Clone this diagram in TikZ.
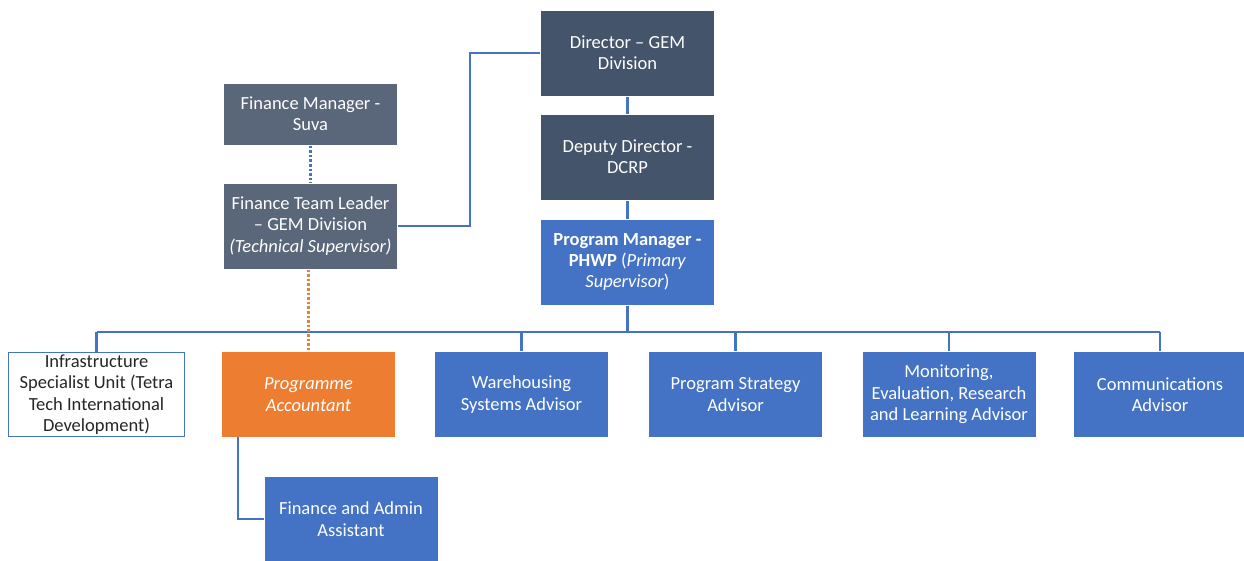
\documentclass[tikz,border=0pt]{standalone}
\usepackage{fontspec}
\setmainfont{Carlito}
\definecolor{slatedark}{HTML}{44546A}
\definecolor{slatemid}{HTML}{5A6679}
\definecolor{offblue}{HTML}{4472C4}
\definecolor{offorange}{HTML}{ED7D31}
\begin{document}
\begin{tikzpicture}[x=1pt,y=-1pt,
  box/.style={draw=white, line width=1pt, text=white, align=center, inner sep=0pt,
    minimum width=174pt, minimum height=86pt,
    font=\fontsize{18.5}{21.3}\selectfont},
  darkbox/.style={box, fill=slatedark},
  midbox/.style={box, fill=slatemid},
  bluebox/.style={box, fill=offblue},
  orangebox/.style={box, fill=offorange},
  whitebox/.style={box, fill=white, draw=offblue, line width=1.6pt, text=black!85, minimum width=176pt, minimum height=84pt},
  link/.style={draw=offblue, line width=2.3pt},
  dotblue/.style={draw=offblue, line width=2.6pt, dotted},
  dotorange/.style={draw=offorange, line width=2.6pt, dotted}
]
\useasboundingbox (0,0) rectangle (1244,560);
% top chain
\node[darkbox] (dir) at (627.5,53) {Director -- GEM\\Division};
\node[darkbox] (dep) at (627.5,157) {Deputy Director -\\DCRP};
\node[bluebox] (pm) at (627.5,262) {\textbf{Program Manager -}\\\textbf{PHWP} (\textit{Primary}\\\textit{Supervisor})};
% finance
\node[midbox, minimum height=62pt] (fm) at (310.5,114) {Finance Manager -\\Suva};
\node[midbox] (ftl) at (310.5,226) {Finance Team Leader\\-- GEM Division\\\textit{(Technical Supervisor)}};
% children
\node[whitebox] (inf) at (96.5,394.5) {Infrastructure\\Specialist Unit (Tetra\\Tech International\\Development)};
\node[orangebox] (pa) at (308.5,394.5) {\textit{Programme}\\\textit{Accountant}};
\node[bluebox] (wh) at (521.5,394.5) {Warehousing\\Systems Advisor};
\node[bluebox] (ps) at (735.5,394.5) {Program Strategy\\Advisor};
\node[bluebox] (mon) at (949,394.5) {Monitoring,\\Evaluation, Research\\and Learning Advisor};
\node[bluebox] (com) at (1160,394.5) {Communications\\Advisor};
\node[bluebox] (faa) at (351,519) {Finance and Admin\\Assistant};
% connectors
\coordinate (bus) at (627.5,332);
\draw[link] (dir.south) -- (dep.north);
\draw[link] (dep.south) -- (pm.north);
\draw[link] (ftl.east) -- (470,226) |- (dir.west);
\draw[link] (pm.south) -- (bus);
\draw[link] (inf.north |- bus) -- (com.north |- bus);
\draw[link] (inf.north) -- (inf.north |- bus);
\draw[link] (wh.north) -- (wh.north |- bus);
\draw[link] (ps.north) -- (ps.north |- bus);
\draw[link] (mon.north) -- (mon.north |- bus);
\draw[link] (com.north) -- (com.north |- bus);
\draw[link] (238,437) |- (faa.west);
\draw[dotblue] (fm.south) -- (ftl.north);
\draw[dotorange] (ftl.south -| pa.north) -- (pa.north);
\end{tikzpicture}
\end{document}
